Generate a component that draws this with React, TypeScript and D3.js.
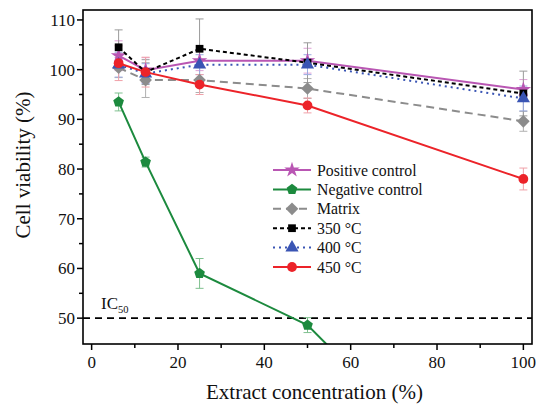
import React from "react";
import * as d3 from "d3";

const concentrations = [6.25, 12.5, 25, 50, 100];
const positiveControl = [102.8, 99.9, 101.8, 101.8, 96.0];
const positiveErr = [3.0, 2.5, 2.0, 2.5, 2.0];
const negativeControl = [93.5, 81.4, 59.0, 48.6, 5.0];
const negativeErr = [1.8, 1.0, 3.0, 1.5, 1.0];
const matrix = [100.4, 97.9, 97.9, 96.2, 89.6];
const matrixErr = [2.0, 3.5, 2.5, 2.0, 2.0];
const t350 = [104.5, 99.5, 104.2, 101.4, 95.2];
const t350Err = [3.5, 2.5, 6.0, 4.0, 4.5];
const t400 = [101.0, 99.2, 101.0, 101.0, 94.2];
const t400Err = [2.5, 2.0, 2.0, 2.0, 2.5];
const t450 = [101.3, 99.5, 97.0, 92.8, 78.0];
const t450Err = [3.5, 3.0, 2.0, 1.5, 2.2];

const xTicks = [0, 20, 40, 60, 80, 100];
const xMinorTicks = [10, 30, 50, 70, 90];
const yTicks = [50, 60, 70, 80, 90, 100, 110];
const yMinorTicks = [55, 65, 75, 85, 95, 105];
const ic50 = 50;

const W = 541, H = 409;
const L = 83, R = 532, T = 10, B = 344;
const FONT = "'Liberation Serif', 'Times New Roman', serif";

const pentagon = {
  draw(ctx: any, size: number) {
    const r = Math.sqrt(size / 2.378);
    for (let i = 0; i < 5; i++) {
      const a = -Math.PI / 2 + (i * 2 * Math.PI) / 5;
      const px = r * Math.cos(a), py = r * Math.sin(a);
      if (i === 0) ctx.moveTo(px, py); else ctx.lineTo(px, py);
    }
    ctx.closePath();
  },
};

const diamond = {
  draw(ctx: any, size: number) {
    const r = Math.sqrt(size / 2);
    ctx.moveTo(0, -r);
    ctx.lineTo(r, 0);
    ctx.lineTo(0, r);
    ctx.lineTo(-r, 0);
    ctx.closePath();
  },
};

type Series = {
  name: string; values: number[]; err: number[]; color: string; errColor: string;
  dash: string | null; width: number; symbol: any; size: number;
};

const series: Series[] = [
  { name: "Positive control", values: positiveControl, err: positiveErr, color: "#b956b3", errColor: "#dfa0d6", dash: null, width: 2, symbol: d3.symbolStar, size: 75 },
  { name: "Negative control", values: negativeControl, err: negativeErr, color: "#1c8a3e", errColor: "#7fc08f", dash: null, width: 2, symbol: pentagon, size: 75 },
  { name: "Matrix", values: matrix, err: matrixErr, color: "#8c8c8c", errColor: "#b0b0b0", dash: "8,5", width: 2, symbol: diamond, size: 80 },
  { name: "350 °C", values: t350, err: t350Err, color: "#000000", errColor: "#9a9a9a", dash: "4,3", width: 2, symbol: d3.symbolSquare, size: 60 },
  { name: "400 °C", values: t400, err: t400Err, color: "#3a55b4", errColor: "#9aaae0", dash: "2,4", width: 2, symbol: d3.symbolTriangle, size: 75 },
  { name: "450 °C", values: t450, err: t450Err, color: "#ec2329", errColor: "#f0a0a8", dash: null, width: 2, symbol: d3.symbolCircle, size: 75 },
];

export default function App() {
  const x = d3.scaleLinear().domain([-2, 102]).range([L, R]);
  const y = d3.scaleLinear().domain([44.8, 112]).range([B, T]);
  const line = d3.line<number>().x((_, i) => x(concentrations[i])).y((v) => y(v));

  return (
    <svg width={W} height={H} style={{ position: "absolute", left: 0, top: 0, background: "#fff" }}>
      <defs>
        <clipPath id="plot"><rect x={L} y={T} width={R - L} height={B - T} /></clipPath>
      </defs>
      {/* IC50 line */}
      <line x1={L} x2={R} y1={y(ic50)} y2={y(ic50)} stroke="#000" strokeWidth={1.6} strokeDasharray="7,5" />
      <text x={101} y={y(ic50) - 9} fontFamily={FONT} fontSize={17} fill="#111">
        IC<tspan fontSize={10.5} dy={4}>50</tspan>
      </text>
      <g clipPath="url(#plot)">
        {series.map((s) => (
          <g key={s.name + "e"}>
            {s.values.map((v, i) => {
              const cx = x(concentrations[i]);
              return (
                <g key={i} stroke={s.errColor} strokeWidth={1}>
                  <line x1={cx} x2={cx} y1={y(v - s.err[i])} y2={y(v + s.err[i])} />
                  <line x1={cx - 4} x2={cx + 4} y1={y(v - s.err[i])} y2={y(v - s.err[i])} />
                  <line x1={cx - 4} x2={cx + 4} y1={y(v + s.err[i])} y2={y(v + s.err[i])} />
                </g>
              );
            })}
          </g>
        ))}
        {series.map((s) => (
          <g key={s.name}>
            <path d={line(s.values) || ""} fill="none" stroke={s.color} strokeWidth={s.width} strokeDasharray={s.dash || undefined} />
            {s.values.map((v, i) => (
              <path key={i} transform={`translate(${x(concentrations[i])},${y(v)})`} d={d3.symbol(s.symbol, s.size)() || ""} fill={s.color} />
            ))}
          </g>
        ))}
      </g>
      {/* frame */}
      <rect x={L} y={T} width={R - L} height={B - T} fill="none" stroke="#000" strokeWidth={1.6} />
      {/* x ticks */}
      {xTicks.map((t) => (
        <g key={t}>
          <line x1={x(t)} x2={x(t)} y1={B} y2={B + 6} stroke="#000" strokeWidth={1.5} />
          <text x={x(t)} y={B + 24} textAnchor="middle" fontFamily={FONT} fontSize={17} fill="#111">{t}</text>
        </g>
      ))}
      {xMinorTicks.map((t) => (
        <line key={t} x1={x(t)} x2={x(t)} y1={B} y2={B + 4} stroke="#000" strokeWidth={1.5} />
      ))}
      {yTicks.map((t) => (
        <g key={t}>
          <line x1={L - 6} x2={L} y1={y(t)} y2={y(t)} stroke="#000" strokeWidth={1.5} />
          <text x={L - 8} y={y(t) + 6} textAnchor="end" fontFamily={FONT} fontSize={17} fill="#111">{t}</text>
        </g>
      ))}
      {yMinorTicks.map((t) => (
        <line key={t} x1={L - 4} x2={L} y1={y(t)} y2={y(t)} stroke="#000" strokeWidth={1.5} />
      ))}
      {/* axis titles */}
      <text x={(L + R) / 2 + 7} y={399} textAnchor="middle" fontFamily={FONT} fontSize={21} fill="#111">Extract concentration (%)</text>
      <text transform={`translate(30,165) rotate(-90)`} textAnchor="middle" fontFamily={FONT} fontSize={21} fill="#111">Cell viability (%)</text>
      {/* legend */}
      {series.map((s, i) => {
        const ly = 170 + i * 19.4;
        return (
          <g key={s.name + "l"}>
            <line x1={273} x2={311} y1={ly} y2={ly} stroke={s.color} strokeWidth={2} strokeDasharray={s.dash || undefined} />
            <path transform={`translate(292,${ly})`} d={d3.symbol(s.symbol, s.size)() || ""} fill={s.color} />
            <text x={317} y={ly + 5.5} fontFamily={FONT} fontSize={15.8} fill="#111">{s.name}</text>
          </g>
        );
      })}
    </svg>
  );
}
